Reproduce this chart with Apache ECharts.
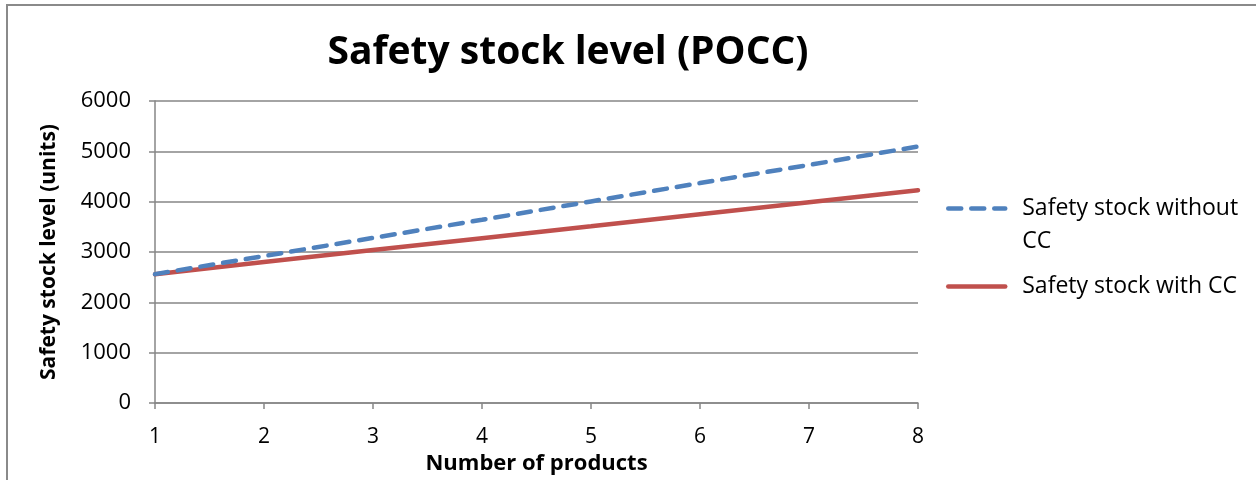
<!DOCTYPE html>
<html>
<head>
<meta charset="utf-8">
<script src="https://cdn.jsdelivr.net/npm/echarts@6/dist/echarts.min.js"></script>
<style>
  html, body { margin: 0; padding: 0; background: #fff; }
  #chart { width: 1256px; height: 480px; }
</style>
</head>
<body>
<div id="chart"></div>
<script>
// 横坐标：产品数量
const products = ["1", "2", "3", "4", "5", "6", "7", "8"];
// 无 CC 的安全库存
const withoutCC = [2560, 2920, 3280, 3640, 4005, 4370, 4730, 5095];
// 有 CC 的安全库存
const withCC = [2560, 2800, 3040, 3275, 3510, 3750, 3990, 4225];

const font = "'Open Sans', 'Noto Sans', sans-serif";
const blue = "#4f81bd";
const red = "#c0504d";
const chart = echarts.init(document.getElementById("chart"));

chart.setOption({
  backgroundColor: "#fff",
  animation: false,
  title: {
    text: "Safety stock level (POCC)",
    left: 563,
    textAlign: "center",
    top: 28,
    textStyle: { fontFamily: font, fontSize: 39, fontWeight: "bold", color: "#000" }
  },
  // 图框线条（左、上）
  graphic: [
    { type: "line", shape: { x1: 7, y1: 4, x2: 7, y2: 480 }, style: { stroke: "#8a8a8a", lineWidth: 2 } },
    { type: "line", shape: { x1: 6, y1: 5, x2: 1256, y2: 5 }, style: { stroke: "#8a8a8a", lineWidth: 2 } }
  ],
  legend: {
    orient: "vertical",
    left: 941,
    top: 154,
    itemWidth: 57,
    itemHeight: 14,
    itemGap: 12,
    itemStyle: { opacity: 0 },
    textStyle: { fontFamily: font, fontSize: 23, color: "#000", lineHeight: 33, padding: [0, 0, 0, 12] },
    // 第一项换行，空行让图标对齐第一行
    formatter: name => name === "Safety stock without CC" ? "\nSafety stock without\nCC" : name,
    data: [
      { name: "Safety stock without CC", lineStyle: { color: blue, width: 4.5, type: [13, 10], cap: "round" } },
      { name: "Safety stock with CC", lineStyle: { color: red, width: 4.5, cap: "round" } }
    ]
  },
  grid: { left: 155, right: 338, top: 101, bottom: 76 },
  xAxis: {
    type: "category",
    data: products,
    boundaryGap: false,
    name: "Number of products",
    nameLocation: "middle",
    nameGap: 50,
    nameTextStyle: { fontFamily: font, fontSize: 22, fontWeight: "bold", color: "#000" },
    axisLine: { lineStyle: { color: "#868686", width: 1.5 } },
    axisTick: { show: true, length: 6, lineStyle: { color: "#868686", width: 1.5 } },
    axisLabel: { fontFamily: font, fontSize: 21, color: "#000", margin: 24 },
    splitLine: { show: false }
  },
  yAxis: {
    type: "value",
    min: 0,
    max: 6000,
    interval: 1000,
    name: "Safety stock level (units)",
    nameLocation: "middle",
    nameGap: 95,
    nameTextStyle: { fontFamily: font, fontSize: 21, fontWeight: "bold", color: "#000" },
    axisLine: { show: true, lineStyle: { color: "#868686", width: 1.5 } },
    axisTick: { show: true, length: 6, lineStyle: { color: "#868686", width: 1.5 } },
    axisLabel: { fontFamily: font, fontSize: 22, color: "#000", margin: 24, formatter: v => String(v) },
    splitLine: { lineStyle: { color: "#868686", width: 1.5 } }
  },
  series: [
    {
      name: "Safety stock without CC",
      type: "line",
      data: withoutCC,
      symbol: "none",
      color: blue,
      lineStyle: { color: blue, width: 4.5, type: [13, 10], cap: "round" },
      z: 3
    },
    {
      name: "Safety stock with CC",
      type: "line",
      data: withCC,
      symbol: "none",
      color: red,
      lineStyle: { color: red, width: 4.5, cap: "round" },
      z: 2
    }
  ]
});
</script>
</body>
</html>
